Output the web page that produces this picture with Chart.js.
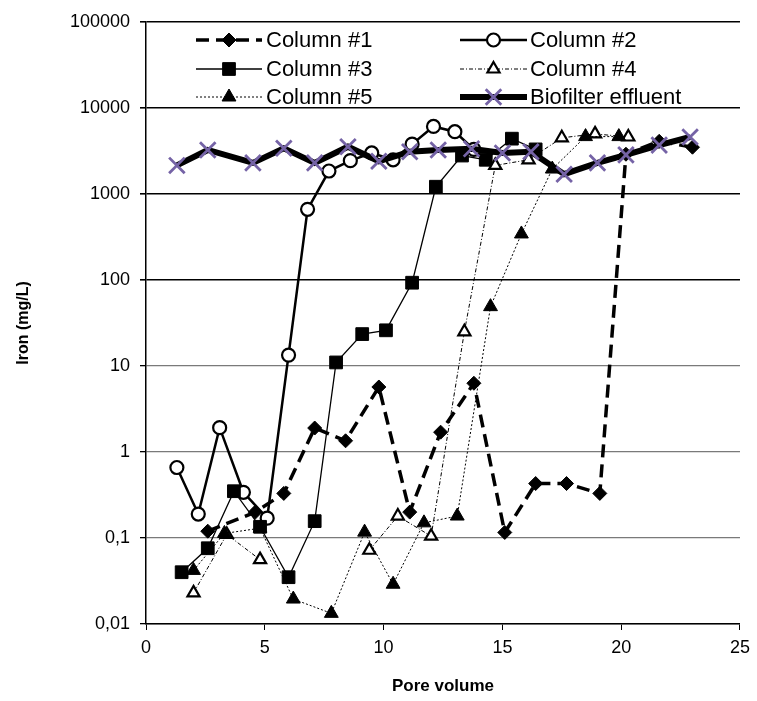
<!DOCTYPE html>
<html><head><meta charset="utf-8">
<script src="https://cdn.jsdelivr.net/npm/chart.js@4/dist/chart.umd.min.js"></script>
<style>html,body{margin:0;padding:0;background:#fff}#wrap{width:757px;height:701px;position:relative}</style>
</head><body><div id="wrap"><canvas id="c" width="757" height="701"></canvas></div>
<script>
const yTickValues = [0.01, 0.1, 1, 10, 100, 1000, 10000, 100000];
const xTickLabels = [0, 5, 10, 15, 20, 25];
const seriesNames = ["Column #1", "Column #2", "Column #3", "Column #4", "Column #5", "Biofilter effluent"];

const col1X = [2.6, 4.6, 5.8, 7.1, 8.4, 9.8, 11.1, 12.4, 13.8, 15.1, 16.4, 17.7, 19.1, 20.2, 21.6, 23.0];
const col1Y = [0.12, 0.2, 0.33, 1.9, 1.35, 5.7, 0.2, 1.7, 6.3, 0.116, 0.43, 0.43, 0.33, 2900, 4100, 3500];

const col2X = [1.3, 2.2, 3.1, 4.1, 5.1, 6.0, 6.8, 7.7, 8.6, 9.5, 10.4, 11.2, 12.1, 13.0, 13.8];
const col2Y = [0.66, 0.19, 1.92, 0.34, 0.17, 13.4, 664, 1850, 2440, 3000, 2500, 3800, 6100, 5300, 3300];

const col3X = [1.5, 2.6, 3.7, 4.8, 6.0, 7.1, 8.0, 9.1, 10.1, 11.2, 12.2, 13.3, 14.3, 15.4, 16.4];
const col3Y = [0.04, 0.076, 0.35, 0.135, 0.035, 0.157, 11, 23.5, 26, 93, 1215, 2800, 2500, 4400, 3300];

const col4X = [2.0, 3.4, 4.8, 6.1, 9.4, 10.6, 12.0, 13.4, 14.7, 16.1, 17.5, 18.9, 20.3];
const col4Y = [0.023, 0.11, 0.056, null, 0.072, 0.18, 0.105, 25, 2150, 2500, 4500, 5000, 4600];

const col5X = [2.0, 3.3, 4.8, 6.2, 7.8, 9.2, 10.4, 11.7, 13.1, 14.5, 15.8, 17.1, 18.5, 19.9];
const col5Y = [0.042, 0.113, 0.13, 0.0195, 0.0133, 0.117, 0.029, 0.15, 0.18, 49, 343, 1950, 4650, 4650];

const biofX = [1.3, 2.6, 4.5, 5.8, 7.1, 8.5, 9.8, 11.1, 12.3, 13.7, 15.0, 16.2, 17.6, 19.0, 20.2, 21.6, 22.9];
const biofY = [2150, 3250, 2300, 3400, 2300, 3550, 2400, 3100, 3250, 3350, 3000, 3100, 1700, 2300, 2850, 3700, 4600];

const pts = (xs, ys) => xs.map((x, i) => ({x: x, y: ys[i]}));
const PURPLE = '#7563a6';
const FONT = "'Liberation Sans', Arial, sans-serif";

const datasets = [
  {label: seriesNames[0], data: pts(col1X, col1Y), borderColor: '#000', borderWidth: 3.5, borderDash: [13, 7],
   pointStyle: 'rectRot', pointRadius: 7, pointBackgroundColor: '#000', pointBorderColor: '#000', pointBorderWidth: 1, order: 5},
  {label: seriesNames[1], data: pts(col2X, col2Y), borderColor: '#000', borderWidth: 2.5,
   pointStyle: 'circle', pointRadius: 6.5, pointBackgroundColor: '#fff', pointBorderColor: '#000', pointBorderWidth: 2.2, order: 4},
  {label: seriesNames[2], data: pts(col3X, col3Y), borderColor: '#000', borderWidth: 1.3,
   pointStyle: 'rect', pointRadius: 9, pointBackgroundColor: '#000', pointBorderColor: '#000', pointBorderWidth: 1, order: 3},
  {label: seriesNames[3], data: pts(col4X, col4Y), borderColor: '#000', borderWidth: 1, borderDash: [4, 2, 1, 2],
   pointStyle: 'triangle', pointRadius: 7, pointBackgroundColor: '#fff', pointBorderColor: '#000', pointBorderWidth: 2.2, order: 2},
  {label: seriesNames[4], data: pts(col5X, col5Y), borderColor: '#000', borderWidth: 1, borderDash: [2, 2],
   pointStyle: 'triangle', pointRadius: 8, pointBackgroundColor: '#000', pointBorderColor: '#000', pointBorderWidth: 1, order: 1},
  {label: seriesNames[5], data: pts(biofX, biofY), borderColor: '#000', borderWidth: 6,
   pointStyle: 'crossRot', pointRadius: 11, pointBackgroundColor: PURPLE, pointBorderColor: PURPLE, pointBorderWidth: 2.8, order: 0}
];
datasets.forEach(d => { d.fill = false; d.tension = 0; d.spanGaps = false; d.pointHoverRadius = d.pointRadius; });

const legendPlugin = {
  id: 'innerLegend',
  afterDraw(chart) {
    const ctx = chart.ctx;
    const cols = [{x0: 196, x1: 262, tx: 266}, {x0: 460, x1: 527, tx: 530}];
    const rows = [40, 69, 97];
    ctx.save();
    datasets.forEach((d, i) => {
      const c = cols[i % 2], y = rows[Math.floor(i / 2)];
      ctx.strokeStyle = d.borderColor;
      ctx.lineWidth = d.borderWidth;
      ctx.setLineDash(d.borderDash || []);
      ctx.beginPath(); ctx.moveTo(c.x0, y); ctx.lineTo(c.x1, y); ctx.stroke();
      ctx.setLineDash([]);
      ctx.fillStyle = d.pointBackgroundColor;
      ctx.strokeStyle = d.pointBorderColor;
      ctx.lineWidth = d.pointBorderWidth;
      Chart.helpers.drawPoint(ctx, {pointStyle: d.pointStyle, radius: d.pointRadius, rotation: 0, borderWidth: d.pointBorderWidth}, (c.x0 + c.x1) / 2, y);
      ctx.fillStyle = '#000';
      ctx.font = "22px " + FONT;
      ctx.textBaseline = 'middle';
      ctx.textAlign = 'left';
      ctx.fillText(d.label, c.tx, y + 1);
    });
    ctx.restore();
  }
};

new Chart(document.getElementById('c'), {
  type: 'line',
  data: {datasets: datasets},
  plugins: [legendPlugin],
  options: {
    responsive: false, animation: false, devicePixelRatio: 1,
    layout: {padding: {top: 22, right: 14, left: 0, bottom: 0}},
    plugins: {legend: {display: false}, tooltip: {enabled: false}},
    scales: {
      x: {
        type: 'linear', min: 0, max: 25,
        afterBuildTicks: s => { s.ticks = xTickLabels.map(v => ({value: v})); },
        afterFit: s => { s.height = 77; },
        ticks: {color: '#000', font: {family: FONT, size: 18}, padding: 7},
        grid: {drawOnChartArea: false, drawTicks: true, tickLength: 6, color: '#000'},
        border: {color: '#000', width: 1.5},
        title: {display: true, text: 'Pore volume', color: '#000', font: {family: FONT, size: 17, weight: 'bold'}, padding: {top: 16}}
      },
      y: {
        type: 'logarithmic', min: 0.01, max: 100000,
        afterBuildTicks: s => { s.ticks = yTickValues.map(v => ({value: v, major: true})); },
        afterFit: s => { s.width = 146; },
        ticks: {color: '#000', font: {family: FONT, size: 18}, padding: 10,
          callback: v => String(v).replace('.', ',')},
        grid: {color: c => (c.tick && c.tick.value >= 100) ? '#000' : '#7a7a7a', lineWidth: c => (c.tick && c.tick.value >= 100) ? 1.6 : 1.3,
          tickColor: '#000', tickLength: 6},
        border: {color: '#000', width: 1.5},
        title: {display: true, text: 'Iron (mg/L)', color: '#000', font: {family: FONT, size: 16, weight: 'bold'}, padding: {top: 14, bottom: 0}}
      }
    }
  }
});
</script></body></html>
